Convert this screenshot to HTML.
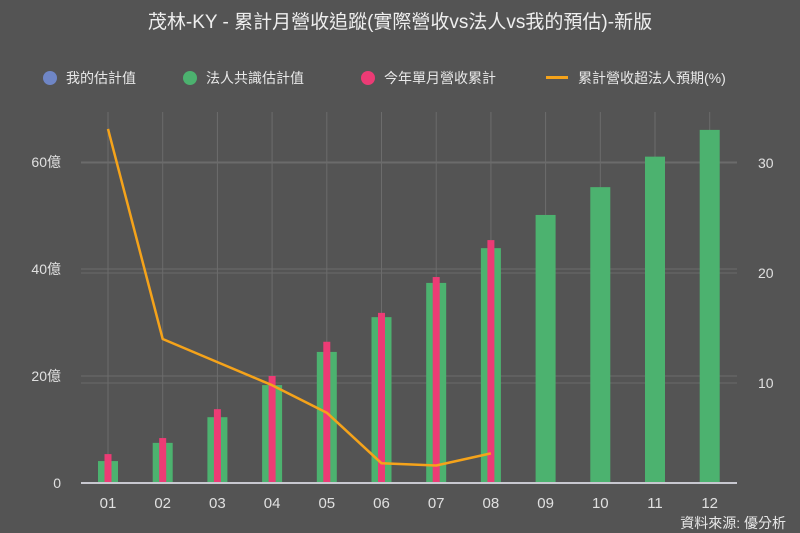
<!DOCTYPE html>
<html><head><meta charset="utf-8"><style>
body{margin:0;background:#545454;}
svg{display:block;font-family:"Liberation Sans","Noto Sans CJK TC",sans-serif;}
</style></head><body>
<svg width="800" height="533" viewBox="0 0 800 533">
<rect width="800" height="533" fill="#545454"/>
<text x="400" y="28" text-anchor="middle" font-size="19" fill="#eeeeee">茂林-KY - 累計月營收追蹤(實際營收vs法人vs我的預估)-新版</text>
<g font-size="14" fill="#e8e8e8">
<g><circle cx="50" cy="78" r="7" fill="#6f86c6"/><text x="66" y="83">我的估計值</text></g>
<g><circle cx="190" cy="78" r="7" fill="#4cb26f"/><text x="206" y="83">法人共識估計值</text></g>
<g><circle cx="368" cy="78" r="7" fill="#ec3b75"/><text x="384" y="83">今年單月營收累計</text></g>
<g><rect x="546" y="76" width="22" height="3" fill="#f5a31a"/><text x="578" y="83">累計營收超法人預期(%)</text></g>
</g>
<g id="grid"></g>
<g id="bars"></g>
<g id="axes"></g>
<text x="786" y="528" text-anchor="end" font-size="14" fill="#e8e8e8">資料來源: 優分析</text>
</svg>
<script>
const categories=["01","02","03","04","05","06","07","08","09","10","11","12"];
const analystValues=[4.1,7.5,12.3,18.3,24.5,31,37.4,43.9,50.1,55.3,61,66];
const actualValues=[5.4,8.4,13.8,20,26.4,31.8,38.5,45.4];
const beatPercent=[33.1,14,11.9,9.8,7.3,2.7,2.5,3.6];
const leftTicks=[0,20,40,60];
const leftTickLabels=["0","20億","40億","60億"];
const rightTicks=[10,20,30];
const NS="http://www.w3.org/2000/svg";
const X0=108,DX=54.7,plotL=81,plotR=737;
const xs=i=>X0+i*DX;
const yL=v=>483-v*5.35;
const yR=v=>493-v*11;
function mk(tag,attrs,parent){const e=document.createElementNS(NS,tag);for(const k in attrs)e.setAttribute(k,attrs[k]);parent.appendChild(e);return e;}
const grid=document.getElementById('grid'),bars=document.getElementById('bars'),axes=document.getElementById('axes');
categories.forEach((c,i)=>{
 const l=mk('line',{x1:xs(i),x2:xs(i),y1:112,y2:483,stroke:'#6c6c6c','stroke-width':1},grid);
 
 
 const t=mk('text',{x:xs(i),y:508,'text-anchor':'middle','font-size':15,fill:'#e0e0e0'},axes);
 t.textContent=c;
 
 
});
leftTicks.forEach((v,i)=>{
 if(v>0){const l=mk('line',{x1:plotL,x2:plotR,y1:yL(v),y2:yL(v),stroke:'#6c6c6c'},grid);
 
 }
 const t=mk('text',{x:61,y:yL(v)+5,'text-anchor':'end','font-size':14,fill:'#e0e0e0'},axes);
 t.textContent=leftTickLabels[i];
 
 
});
rightTicks.forEach(v=>{
 const l=mk('line',{x1:plotL,x2:plotR,y1:yR(v),y2:yR(v),stroke:'#6a6a6a'},grid);
 
 
 const t=mk('text',{x:758,y:yR(v)+5,'font-size':14,fill:'#e0e0e0'},axes);
 t.textContent=String(v);
 
 
});
analystValues.forEach((v,i)=>{
 const r=mk('rect',{x:xs(i)-10,y:yL(v),width:20,height:483-yL(v),fill:'#4cb26f'},bars);
 
 
});
actualValues.forEach((v,i)=>{
 const r=mk('rect',{x:xs(i)-3.5,y:yL(v),width:7,height:483-yL(v),fill:'#ec3b75'},bars);
 
 
});
const base=mk('line',{x1:plotL,x2:plotR,y1:483,y2:483,stroke:'#c8c8d0','stroke-width':2},axes);


const pl=mk('polyline',{points:beatPercent.map((v,i)=>xs(i)+','+yR(v)).join(' '),fill:'none',stroke:'#f5a31a','stroke-width':2.5,'stroke-linejoin':'round'},bars);


</script>
</body></html>
